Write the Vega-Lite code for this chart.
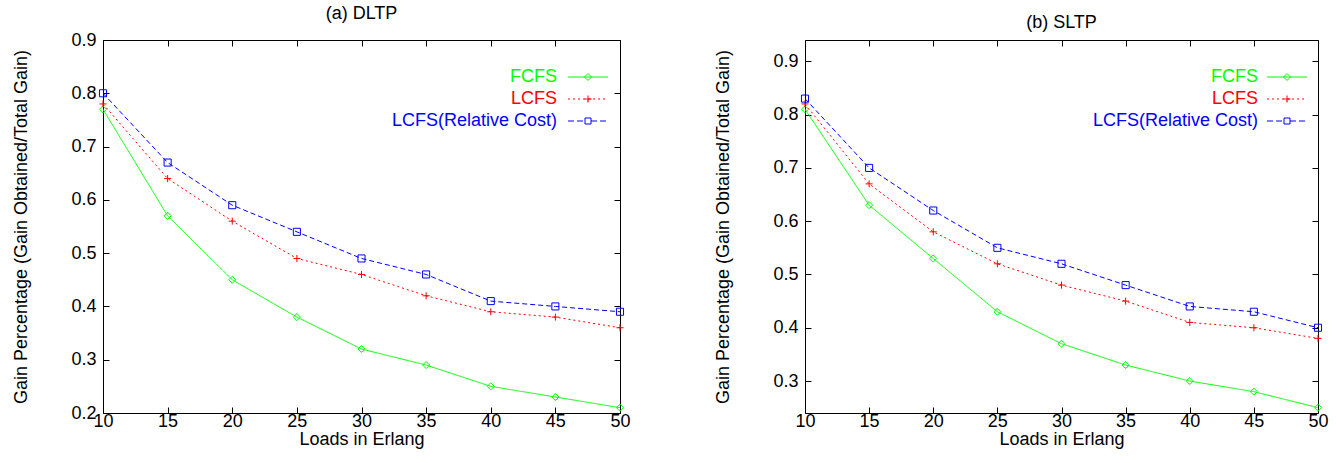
{
  "$schema": "https://vega.github.io/schema/vega-lite/v6.json",
  "padding": {"left": 12, "top": 5, "right": 5, "bottom": 2},
  "background": "white",
  "config": {
    "font": "Liberation Sans",
    "view": {"stroke": null},
    "axis": {
      "grid": false,
      "domainColor": "black",
      "domainWidth": 1,
      "tickColor": "black",
      "tickSize": -6,
      "labelFont": "Liberation Sans",
      "labelFontSize": 18,
      "labelColor": "black",
      "titleFont": "Liberation Sans",
      "titleFontSize": 18,
      "titleFontWeight": "normal",
      "titleColor": "black"
    },
    "title": {"font": "Liberation Sans", "fontSize": 18, "fontWeight": "normal", "color": "black"}
  },
  "datasets": {
    "gain": [
      {"panel": "a", "load": 10, "series": "FCFS", "value": 0.77},
      {"panel": "a", "load": 15, "series": "FCFS", "value": 0.57},
      {"panel": "a", "load": 20, "series": "FCFS", "value": 0.45},
      {"panel": "a", "load": 25, "series": "FCFS", "value": 0.38},
      {"panel": "a", "load": 30, "series": "FCFS", "value": 0.32},
      {"panel": "a", "load": 35, "series": "FCFS", "value": 0.29},
      {"panel": "a", "load": 40, "series": "FCFS", "value": 0.25},
      {"panel": "a", "load": 45, "series": "FCFS", "value": 0.23},
      {"panel": "a", "load": 50, "series": "FCFS", "value": 0.21},
      {"panel": "a", "load": 10, "series": "LCFS", "value": 0.78},
      {"panel": "a", "load": 15, "series": "LCFS", "value": 0.64},
      {"panel": "a", "load": 20, "series": "LCFS", "value": 0.56},
      {"panel": "a", "load": 25, "series": "LCFS", "value": 0.49},
      {"panel": "a", "load": 30, "series": "LCFS", "value": 0.46},
      {"panel": "a", "load": 35, "series": "LCFS", "value": 0.42},
      {"panel": "a", "load": 40, "series": "LCFS", "value": 0.39},
      {"panel": "a", "load": 45, "series": "LCFS", "value": 0.38},
      {"panel": "a", "load": 50, "series": "LCFS", "value": 0.36},
      {"panel": "a", "load": 10, "series": "LCFS(Relative Cost)", "value": 0.80},
      {"panel": "a", "load": 15, "series": "LCFS(Relative Cost)", "value": 0.67},
      {"panel": "a", "load": 20, "series": "LCFS(Relative Cost)", "value": 0.59},
      {"panel": "a", "load": 25, "series": "LCFS(Relative Cost)", "value": 0.54},
      {"panel": "a", "load": 30, "series": "LCFS(Relative Cost)", "value": 0.49},
      {"panel": "a", "load": 35, "series": "LCFS(Relative Cost)", "value": 0.46},
      {"panel": "a", "load": 40, "series": "LCFS(Relative Cost)", "value": 0.41},
      {"panel": "a", "load": 45, "series": "LCFS(Relative Cost)", "value": 0.40},
      {"panel": "a", "load": 50, "series": "LCFS(Relative Cost)", "value": 0.39},
      {"panel": "b", "load": 10, "series": "FCFS", "value": 0.81},
      {"panel": "b", "load": 15, "series": "FCFS", "value": 0.63},
      {"panel": "b", "load": 20, "series": "FCFS", "value": 0.53},
      {"panel": "b", "load": 25, "series": "FCFS", "value": 0.43},
      {"panel": "b", "load": 30, "series": "FCFS", "value": 0.37},
      {"panel": "b", "load": 35, "series": "FCFS", "value": 0.33},
      {"panel": "b", "load": 40, "series": "FCFS", "value": 0.30},
      {"panel": "b", "load": 45, "series": "FCFS", "value": 0.28},
      {"panel": "b", "load": 50, "series": "FCFS", "value": 0.25},
      {"panel": "b", "load": 10, "series": "LCFS", "value": 0.82},
      {"panel": "b", "load": 15, "series": "LCFS", "value": 0.67},
      {"panel": "b", "load": 20, "series": "LCFS", "value": 0.58},
      {"panel": "b", "load": 25, "series": "LCFS", "value": 0.52},
      {"panel": "b", "load": 30, "series": "LCFS", "value": 0.48},
      {"panel": "b", "load": 35, "series": "LCFS", "value": 0.45},
      {"panel": "b", "load": 40, "series": "LCFS", "value": 0.41},
      {"panel": "b", "load": 45, "series": "LCFS", "value": 0.40},
      {"panel": "b", "load": 50, "series": "LCFS", "value": 0.38},
      {"panel": "b", "load": 10, "series": "LCFS(Relative Cost)", "value": 0.83},
      {"panel": "b", "load": 15, "series": "LCFS(Relative Cost)", "value": 0.70},
      {"panel": "b", "load": 20, "series": "LCFS(Relative Cost)", "value": 0.62},
      {"panel": "b", "load": 25, "series": "LCFS(Relative Cost)", "value": 0.55},
      {"panel": "b", "load": 30, "series": "LCFS(Relative Cost)", "value": 0.52},
      {"panel": "b", "load": 35, "series": "LCFS(Relative Cost)", "value": 0.48},
      {"panel": "b", "load": 40, "series": "LCFS(Relative Cost)", "value": 0.44},
      {"panel": "b", "load": 45, "series": "LCFS(Relative Cost)", "value": 0.43},
      {"panel": "b", "load": 50, "series": "LCFS(Relative Cost)", "value": 0.40}
    ]
  },
  "data": {"name": "gain"},
  "bounds": "flush",
  "spacing": 185,
  "resolve": {"scale": {"color": "independent", "y": "independent", "x": "independent"}, "legend": {"color": "independent"}},
  "hconcat": [
    {
      "width": 517,
      "height": 373,
      "title": {"text": "(a) DLTP", "offset": 8},
      "transform": [{"filter": "datum.panel === 'a'"}],
      "resolve": {"axis": {"x": "independent", "y": "independent"}},
      "layer": [
        {
          "mark": {"type": "line", "strokeWidth": 1, "clip": true},
          "encoding": {
            "x": {"field": "load", "type": "quantitative", "scale": {"domain": [10, 50], "nice": false}, "axis": {"values": [10, 15, 20, 25, 30, 35, 40, 45, 50], "title": "Loads in Erlang", "labelPadding": 5, "titlePadding": 0, "labelFlush": false}},
            "y": {"field": "value", "type": "quantitative", "scale": {"domain": [0.2, 0.9], "nice": false, "zero": false}, "axis": {"values": [0.2, 0.3, 0.4, 0.5, 0.6, 0.7, 0.8, 0.9], "format": ".1f", "title": "Gain Percentage (Gain Obtained/Total Gain)", "labelPadding": 13, "titlePadding": 40, "labelFlush": false}},
            "color": {"field": "series", "type": "nominal", "sort": ["FCFS", "LCFS", "LCFS(Relative Cost)"], "scale": {"domain": ["FCFS", "LCFS", "LCFS(Relative Cost)"], "range": ["#00ff00", "#ff0000", "#0000ff"]},
              "legend": {
                "orient": "none", "legendX": 476, "legendY": 28, "title": null,
                "labelFont": "Liberation Sans", "labelFontSize": 18, "labelAlign": "right", "labelOffset": -40, "labelLimit": 400,
                "symbolSize": 100, "symbolStrokeWidth": 1, "symbolFillColor": "transparent", "rowPadding": 4,
                "encode": {
                  "labels": {"update": {"fill": {"signal": "datum.value === 'FCFS' ? '#00ff00' : datum.value === 'LCFS' ? '#ff0000' : '#0000ff'"}}},
                  "symbols": {"update": {
                    "shape": {"signal": "datum.value === 'FCFS' ? 'M-4,0H4M0,-0.7L0.7,0L0,0.7L-0.7,0Z' : datum.value === 'LCFS' ? 'M0,-0.7V-0.3M0,-0.3V0.1M0,0.1V0.5M0,0.3V0.7M-0.7,0H-0.3M-0.3,0H0.1M0.1,0H0.5M0.3,0H0.7M-4,0H4' : 'M-0.6,-0.6H0.6M0.6,-0.6V0.6M0.6,0.6H-0.6M-0.6,0.6V-0.6M-4,0H-0.6M0.6,0H4'"},
                    "strokeDash": {"signal": "datum.value === 'FCFS' ? [] : datum.value === 'LCFS' ? [2, 3] : [6, 3]"},
                    "fill": {"value": "transparent"}
                  }}
                }
              }
            },
            "strokeDash": {"field": "series", "type": "nominal", "scale": {"domain": ["FCFS", "LCFS", "LCFS(Relative Cost)"], "range": [[1, 0], [2, 3], [5, 3]]}, "legend": null}
          }
        },
        {
          "mark": {"type": "point", "filled": false, "strokeWidth": 1, "opacity": 1},
          "encoding": {
            "x": {"field": "load", "type": "quantitative", "axis": null},
            "y": {"field": "value", "type": "quantitative", "axis": null},
            "color": {"field": "series", "type": "nominal", "legend": null},
            "shape": {"field": "series", "type": "nominal", "scale": {"domain": ["FCFS", "LCFS", "LCFS(Relative Cost)"], "range": ["diamond", "M-1,0H1M0,-1V1", "square"]}, "legend": null},
            "size": {"value": 50}
          }
        },
        {
          "mark": {"type": "point", "opacity": 0},
          "encoding": {
            "x": {"field": "load", "type": "quantitative", "axis": {"orient": "top", "values": [10, 15, 20, 25, 30, 35, 40, 45, 50], "labels": false, "title": null}},
            "y": {"field": "value", "type": "quantitative", "axis": {"orient": "right", "values": [0.2, 0.3, 0.4, 0.5, 0.6, 0.7, 0.8, 0.9], "labels": false, "title": null}}
          }
        }
      ]
    },
    {
      "width": 513,
      "height": 373,
      "title": {"text": "(b) SLTP", "offset": 8},
      "transform": [{"filter": "datum.panel === 'b'"}],
      "resolve": {"axis": {"x": "independent", "y": "independent"}},
      "layer": [
        {
          "mark": {"type": "line", "strokeWidth": 1, "clip": true},
          "encoding": {
            "x": {"field": "load", "type": "quantitative", "scale": {"domain": [10, 50], "nice": false}, "axis": {"values": [10, 15, 20, 25, 30, 35, 40, 45, 50], "title": "Loads in Erlang", "labelPadding": 5, "titlePadding": 0, "labelFlush": false}},
            "y": {"field": "value", "type": "quantitative", "scale": {"domain": [0.24, 0.94], "nice": false, "zero": false}, "axis": {"values": [0.3, 0.4, 0.5, 0.6, 0.7, 0.8, 0.9], "format": ".1f", "title": "Gain Percentage (Gain Obtained/Total Gain)", "labelPadding": 13, "titlePadding": 40, "labelFlush": false}},
            "color": {"field": "series", "type": "nominal", "sort": ["FCFS", "LCFS", "LCFS(Relative Cost)"], "scale": {"domain": ["FCFS", "LCFS", "LCFS(Relative Cost)"], "range": ["#00ff00", "#ff0000", "#0000ff"]},
              "legend": {
                "orient": "none", "legendX": 473, "legendY": 28, "title": null,
                "labelFont": "Liberation Sans", "labelFontSize": 18, "labelAlign": "right", "labelOffset": -38, "labelLimit": 400,
                "symbolSize": 100, "symbolStrokeWidth": 1, "symbolFillColor": "transparent", "rowPadding": 4,
                "encode": {
                  "labels": {"update": {"fill": {"signal": "datum.value === 'FCFS' ? '#00ff00' : datum.value === 'LCFS' ? '#ff0000' : '#0000ff'"}}},
                  "symbols": {"update": {
                    "shape": {"signal": "datum.value === 'FCFS' ? 'M-4,0H4M0,-0.7L0.7,0L0,0.7L-0.7,0Z' : datum.value === 'LCFS' ? 'M0,-0.7V-0.3M0,-0.3V0.1M0,0.1V0.5M0,0.3V0.7M-0.7,0H-0.3M-0.3,0H0.1M0.1,0H0.5M0.3,0H0.7M-4,0H4' : 'M-0.6,-0.6H0.6M0.6,-0.6V0.6M0.6,0.6H-0.6M-0.6,0.6V-0.6M-4,0H-0.6M0.6,0H4'"},
                    "strokeDash": {"signal": "datum.value === 'FCFS' ? [] : datum.value === 'LCFS' ? [2, 3] : [6, 3]"},
                    "fill": {"value": "transparent"}
                  }}
                }
              }
            },
            "strokeDash": {"field": "series", "type": "nominal", "scale": {"domain": ["FCFS", "LCFS", "LCFS(Relative Cost)"], "range": [[1, 0], [2, 3], [5, 3]]}, "legend": null}
          }
        },
        {
          "mark": {"type": "point", "filled": false, "strokeWidth": 1, "opacity": 1},
          "encoding": {
            "x": {"field": "load", "type": "quantitative", "axis": null},
            "y": {"field": "value", "type": "quantitative", "axis": null},
            "color": {"field": "series", "type": "nominal", "legend": null},
            "shape": {"field": "series", "type": "nominal", "scale": {"domain": ["FCFS", "LCFS", "LCFS(Relative Cost)"], "range": ["diamond", "M-1,0H1M0,-1V1", "square"]}, "legend": null},
            "size": {"value": 50}
          }
        },
        {
          "mark": {"type": "point", "opacity": 0},
          "encoding": {
            "x": {"field": "load", "type": "quantitative", "axis": {"orient": "top", "values": [10, 15, 20, 25, 30, 35, 40, 45, 50], "labels": false, "title": null}},
            "y": {"field": "value", "type": "quantitative", "axis": {"orient": "right", "values": [0.3, 0.4, 0.5, 0.6, 0.7, 0.8, 0.9], "labels": false, "title": null}}
          }
        }
      ]
    }
  ]
}
